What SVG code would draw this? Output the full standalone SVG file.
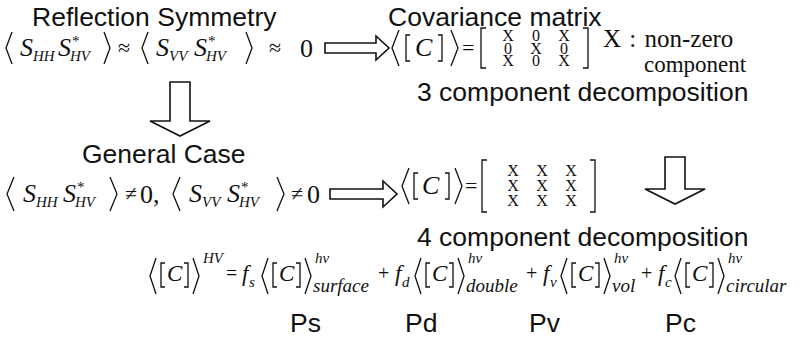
<svg xmlns="http://www.w3.org/2000/svg" width="812" height="340" viewBox="0 0 812 340">
<style>
.hd{font-family:"Liberation Sans",Arial,sans-serif;font-size:26.5px;fill:#111}
.mi{font-family:"Liberation Serif","Times New Roman",serif;font-style:italic;fill:#111}
.mr{font-family:"Liberation Serif","Times New Roman",serif;fill:#111}
.big{font-size:26px}
.sub{font-size:15px}
.op{font-size:22px}
.mx{font-size:16px;text-anchor:middle}
.dl{fill:none;stroke:#111;stroke-width:1.3}
.ar{fill:#fff;stroke:#111;stroke-width:1.6;stroke-linejoin:miter}
</style>
<defs>
<g id="cc">
<path class="dl" d="M6,-23 L0,-5 L6,13"/>
<path class="dl" d="M15,-18 L11,-18 L11,6 L15,6"/>
<text class="mi" x="17" y="0" font-size="23">C</text>
<path class="dl" d="M34,-18 L38,-18 L38,6 L34,6"/>
<path class="dl" d="M43,-23 L49,-5 L43,13"/>
</g>
</defs>
<rect width="812" height="340" fill="#fff"/>

<g id="reflection-symmetry">
<text class="hd" x="32" y="26">Reflection Symmetry</text>
<path class="dl" d="M12,32 L6,48 L12,64"/>
<text class="mi big" x="20" y="56">S</text>
<text class="mi sub" x="33" y="61">HH</text>
<text class="mi big" x="58" y="56">S</text>
<text class="mr sub" x="72" y="46">*</text>
<text class="mi sub" x="70" y="61">HV</text>
<path class="dl" d="M104,32 L110,48 L104,64"/>
<text class="mr op" x="118" y="55">≈</text>
<path class="dl" d="M148,32 L142,48 L148,64"/>
<text class="mi big" x="156" y="56">S</text>
<text class="mi sub" x="169" y="61">VV</text>
<text class="mi big" x="194" y="56">S</text>
<text class="mr sub" x="208" y="46">*</text>
<text class="mi sub" x="206" y="61">HV</text>
<path class="dl" d="M246,32 L252,48 L246,64"/>
<text class="mr op" x="269" y="55">≈</text>
<text class="mr big" x="300" y="57">0</text>
</g>

<g id="covariance-matrix">
<text class="hd" x="388" y="26">Covariance matrix</text>
<path class="dl" d="M399,30 L392,48 L399,66"/>
<path class="dl" d="M410,35 L406,35 L406,61 L410,61"/>
<text class="mi big" x="415" y="56">C</text>
<path class="dl" d="M438,35 L442,35 L442,61 L438,61"/>
<path class="dl" d="M451,30 L458,48 L451,66"/>
<text class="mr op" x="462" y="55">=</text>
<path class="dl" d="M486,28 L481,28 L481,68 L486,68"/>
<text class="mr mx"><tspan x="508" y="41">X</tspan><tspan x="536" y="41">0</tspan><tspan x="564" y="41">X</tspan><tspan x="508" y="53.5">0</tspan><tspan x="536" y="53.5">X</tspan><tspan x="564" y="53.5">0</tspan><tspan x="508" y="66">X</tspan><tspan x="536" y="66">0</tspan><tspan x="564" y="66">X</tspan></text>
<path class="dl" d="M583,28 L588,28 L588,68 L583,68"/>
<text class="mr" font-size="25" word-spacing="2" x="603" y="47">X : non-zero</text>
<text class="mr" font-size="23" x="644" y="72">component</text>
</g>

<g id="three-component">
<text class="hd" x="417" y="101">3 component decomposition</text>
</g>

<g id="general-case">
<text class="hd" x="82" y="163">General Case</text>
<path class="dl" d="M14,177 L7,194 L14,211"/>
<text class="mi big" x="23" y="202">S</text>
<text class="mi sub" x="36" y="207">HH</text>
<text class="mi big" x="63" y="202">S</text>
<text class="mr sub" x="77" y="192">*</text>
<text class="mi sub" x="75" y="207">HV</text>
<path class="dl" d="M110,177 L117,194 L110,211"/>
<text class="mr op" x="125" y="201">≠</text>
<text class="mr big" x="140" y="203">0,</text>
<path class="dl" d="M180,177 L173,194 L180,211"/>
<text class="mi big" x="189" y="202">S</text>
<text class="mi sub" x="202" y="207">VV</text>
<text class="mi big" x="227" y="202">S</text>
<text class="mr sub" x="241" y="192">*</text>
<text class="mi sub" x="239" y="207">HV</text>
<path class="dl" d="M277,177 L284,194 L277,211"/>
<text class="mr op" x="291" y="201">≠</text>
<text class="mr big" x="307" y="203">0</text>
</g>

<g id="general-matrix">
<path class="dl" d="M409,168 L402,186 L409,204"/>
<path class="dl" d="M418,173 L414,173 L414,199 L418,199"/>
<text class="mi big" x="422" y="194">C</text>
<path class="dl" d="M445,173 L449,173 L449,199 L445,199"/>
<path class="dl" d="M455,168 L462,186 L455,204"/>
<text class="mr op" x="465" y="193">=</text>
<path class="dl" d="M487,160 L482,160 L482,212 L487,212"/>
<text class="mr mx"><tspan x="513" y="176">X</tspan><tspan x="542" y="176">X</tspan><tspan x="571" y="176">X</tspan><tspan x="513" y="191">X</tspan><tspan x="542" y="191">X</tspan><tspan x="571" y="191">X</tspan><tspan x="513" y="206">X</tspan><tspan x="542" y="206">X</tspan><tspan x="571" y="206">X</tspan></text>
<path class="dl" d="M590,160 L595,160 L595,212 L590,212"/>
</g>

<g id="four-component">
<text class="hd" x="417" y="246">4 component decomposition</text>
<use href="#cc" x="150" y="281"/>
<text class="mi sub" x="203" y="263">HV</text>
<text class="mr" font-size="20" x="226" y="280">=</text>
<text class="mi" font-size="23" x="242" y="281">f</text>
<text class="mi sub" x="249" y="287">s</text>
<use href="#cc" x="262" y="281"/>
<text class="mi sub" x="315" y="263">hv</text>
<text class="mi" font-size="19" x="313" y="292">surface</text>
<text class="mr" font-size="20" x="378" y="280">+</text>
<text class="mi" font-size="23" x="395" y="281">f</text>
<text class="mi sub" x="402" y="287">d</text>
<use href="#cc" x="415" y="281"/>
<text class="mi sub" x="468" y="263">hv</text>
<text class="mi" font-size="19" x="466" y="292">double</text>
<text class="mr" font-size="20" x="526" y="280">+</text>
<text class="mi" font-size="23" x="543" y="281">f</text>
<text class="mi sub" x="550" y="287">v</text>
<use href="#cc" x="561" y="281"/>
<text class="mi sub" x="614" y="263">hv</text>
<text class="mi" font-size="19" x="612" y="292">vol</text>
<text class="mr" font-size="20" x="641" y="280">+</text>
<text class="mi" font-size="23" x="658" y="281">f</text>
<text class="mi sub" x="665" y="287">c</text>
<use href="#cc" x="675" y="281"/>
<text class="mi sub" x="728" y="263">hv</text>
<text class="mi" font-size="19" x="726" y="292">circular</text>
<text class="hd" x="290" y="332">Ps</text>
<text class="hd" x="405" y="332">Pd</text>
<text class="hd" x="529" y="332">Pv</text>
<text class="hd" x="665" y="332">Pc</text>
</g>

<g id="connectors">
<path class="ar" d="M325,43 L376,43 L376,36 L389,48 L376,60 L376,53 L325,53 Z"/>
<path class="ar" d="M330,189 L383,189 L383,181 L397,194 L383,207 L383,199 L330,199 Z"/>
<path class="ar" d="M170,82 L190,82 L190,121 L210,121 L180,136 L150,121 L170,121 Z"/>
<path class="ar" d="M665,157 L685,157 L685,189 L705,189 L675,204 L645,189 L665,189 Z"/>
</g>
</svg>
